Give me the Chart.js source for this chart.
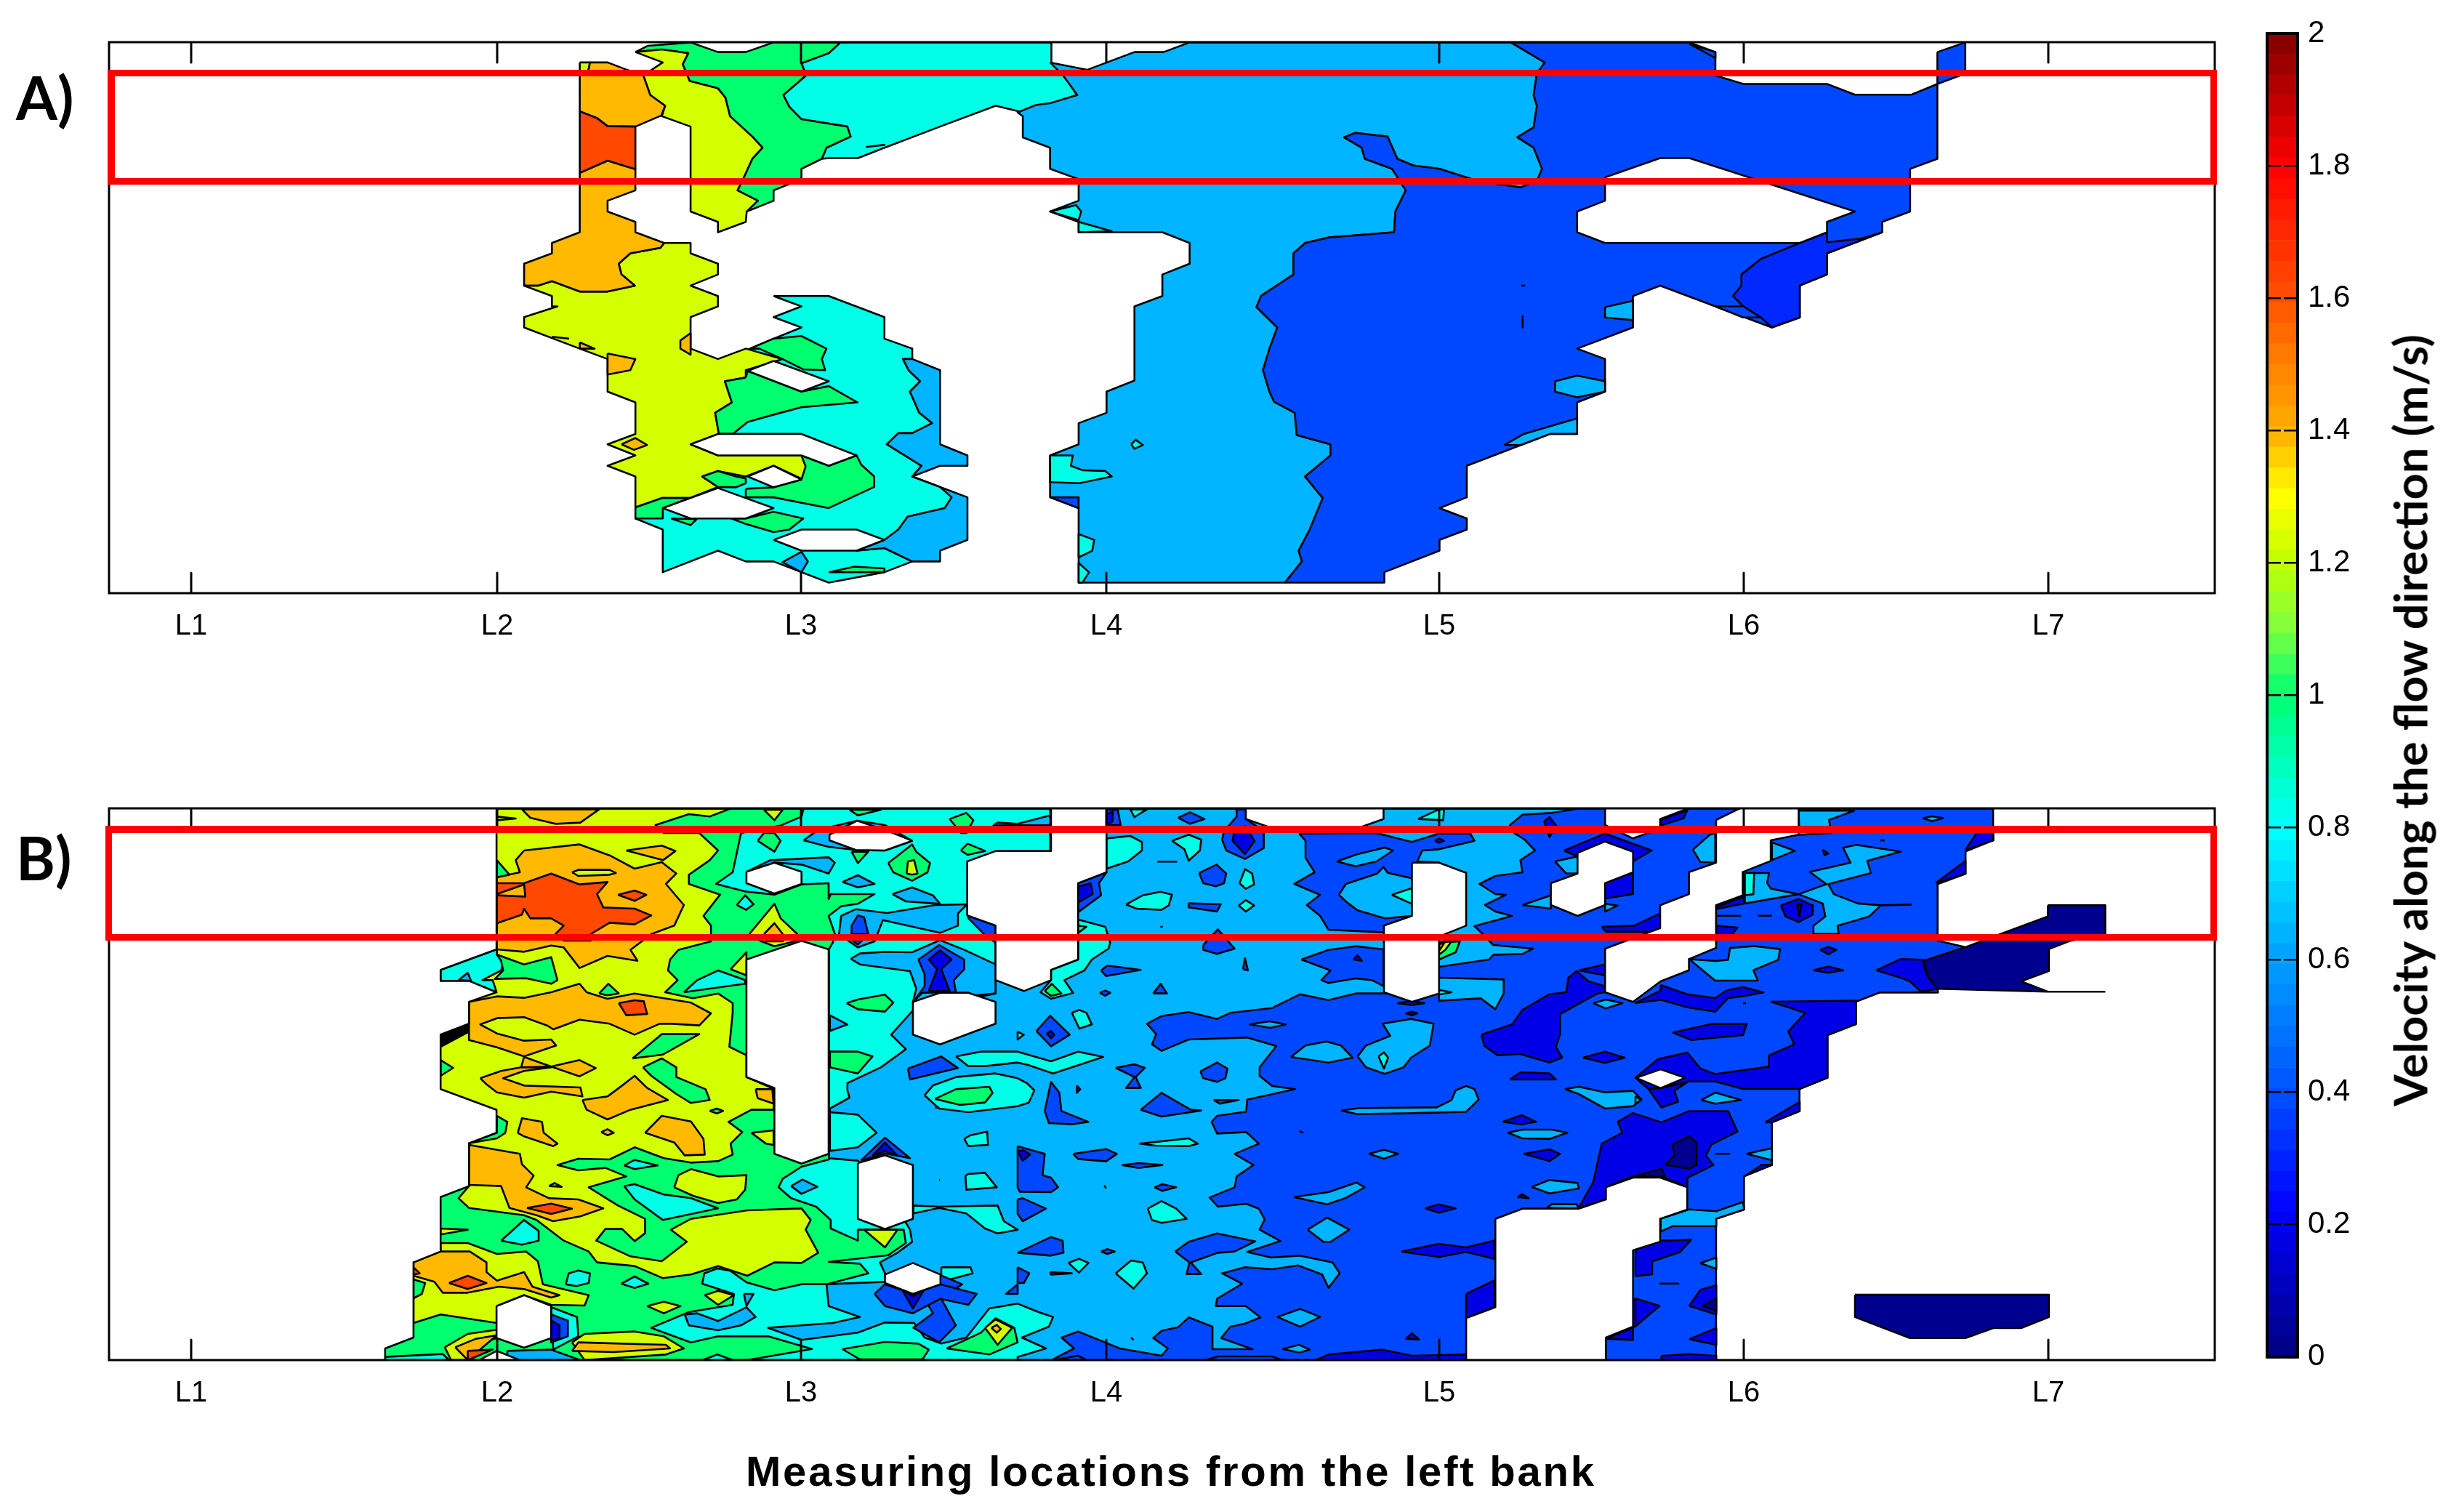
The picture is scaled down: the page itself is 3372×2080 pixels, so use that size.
<!DOCTYPE html>
<html>
<head>
<meta charset="utf-8">
<title>Velocity along the flow direction</title>
<script src="https://cdn.jsdelivr.net/npm/chart.js@4/dist/chart.umd.js"></script>
<style>
  body { margin: 0; background: #fff; width: 3372px; height: 2080px; overflow: hidden; position: relative; }
  canvas { position: absolute; }
  .box { position: absolute; border-style: solid; border-color: #f00; box-sizing: border-box; }
  .txt { position: absolute; color: #000; white-space: nowrap; font-weight: bold; }
</style>
</head>
<body>
<canvas id="chartA" width="2997" height="888" style="left:100px;top:8px"></canvas>
<canvas id="chartB" width="2997" height="889" style="left:100px;top:1062px"></canvas>
<canvas id="chartBar" width="190" height="1900" style="left:3099px;top:6px"></canvas>
<div class="box" style="left:148px;top:96px;width:2902px;height:158px;border-width:9px 9px 9px 10px"></div>
<div class="box" style="left:145px;top:1136px;width:2905px;height:158px;border-width:10px 9px 9px 9px"></div>
<div class="txt" style="left:22px;top:84px;font:bold 82px Lato">A)</div>
<div class="txt" style="left:22px;top:1130px;font:bold 82px Lato">B)</div>
<div class="txt" style="left:1026px;top:1990px;font:bold 58px 'Liberation Sans';letter-spacing:2.8px">Measuring locations from the left bank</div>
<div class="txt" id="barTitle" style="left:3315px;top:991px;font:bold 63px Lato;transform:translate(-50%,-50%) rotate(-90deg)">Velocity along the flow direction (m/s)</div>

<script>
// axis: section position of each measuring location
const xTickPos = [113, 534, 952, 1372, 1830, 2249, 2668];
const xTickLabels = ['L1', 'L2', 'L3', 'L4', 'L5', 'L6', 'L7'];
const xMax = 2897;
const yMaxA = 758;
const yMaxB = 759;

// colorbar
const barTicks = [0, 0.2, 0.4, 0.6, 0.8, 1, 1.2, 1.4, 1.6, 1.8, 2];
const barStopValues = [0, 0.22, 0.4, 0.6, 0.8, 1, 1.1, 1.2, 1.3, 1.4, 1.6, 1.8, 2];
const barStopColors = ['#000080', '#0000ff', '#0050ff', '#00a0ff', '#00ffff', '#00ff70', '#80ff40', '#c0ff00', '#ffff00', '#ffb000', '#ff5000', '#ff0000', '#800000'];
const barCells = 64;

// one colour per velocity band
const bandColors = {
  navy: '#00008f', deep: '#0000e6', royal: '#0028ff', blue: '#0048ff', light: '#00b4ff',
  cyan: '#00ffe6', green: '#00ff6e', lime: '#d4ff00', orange: '#ffb900', red: '#ff4800',
  white: '#ffffff', black: '#000000'
};

// contours were digitised off crops of the figure, each crop has its own calibration
// [x0, y0, sx, sy]: position = x0 + sx * read, depth = y0 + sy * read
const calA1 = [550, -18, 0.638, 0.51];
const calA2 = [1250, -18, 0.893, 0.51];
const calB3 = [350, -12, 0.574, 1 / 3];
const calB4 = [350, 368, 0.574, 1 / 3];
const calB5 = [1250, -12, 0.574, 1 / 3];
const calB6 = [1250, 368, 0.574, 1 / 3];
const calB7 = [2100, -12, 0.5102, 0.5102];

// ---- panel A ----
const aCyan = [
  [690,65, 715,36, 1170,36, 1170,90, 1190,110, 1225,178, 1170,200, 1140,205, 1110,225, 1050,207, 930,263, 810,320, 753,348, 690,348, 675,350, 685,320, 737,290, 730,263, 631,243, 605,210, 592,178, 641,125, 631,92],
  [571,720, 690,720, 810,777, 810,835, 870,862, 870,890, 850,890, 862,920, 887,950, 865,978, 885,1035, 913,1063, 870,1090, 840,1090, 815,1120, 890,1178, 870,1207, 930,1235, 955,1263, 940,1292, 860,1315, 840,1350, 810,1378, 750,1407, 810,1400, 870,1436, 810,1465, 690,1493, 631,1465, 571,1436, 511,1436, 451,1407, 332,1465, 332,1350, 273,1320, 450,1092, 520,862, 571,835, 631,805, 571,777, 631,748]
];
const aLightLeft = [
  [870,890, 930,920, 930,1120, 989,1150, 989,1178, 930,1178, 870,1207, 890,1178, 815,1120, 840,1090, 870,1090, 913,1063, 885,1035, 865,978, 887,950, 862,920, 850,890],
  [870,1207, 930,1235, 955,1263, 940,1292, 860,1315, 840,1350, 810,1378, 750,1407, 810,1400, 870,1436, 930,1436, 930,1407, 989,1378, 989,1263],
  [631,1410, 645,1436, 631,1465, 590,1438]
];
const aLightMain = [
  [50,90, 107,110, 180,62, 225,62, 265,36, 760,36, 812,90, 800,120, 795,178, 800,207, 795,265, 770,292, 795,320, 808,377, 800,410, 775,427, 738,418, 700,405, 650,377, 610,368, 585,350, 570,290, 520,280, 503,292, 530,320, 535,350, 577,377, 598,435, 582,492, 580,548, 480,562, 443,577, 425,605, 425,662, 375,720, 368,750, 400,805, 388,862, 378,920, 388,978, 395,1005, 427,1035, 430,1095, 482,1120, 482,1150, 443,1207, 470,1265, 450,1350, 433,1407, 438,1436, 412,1493, 94,1493, 94,1292, 50,1263, 50,1150, 94,1120, 94,1063, 137,1035, 137,978, 180,948, 180,748, 223,720, 223,662, 265,633, 265,577, 223,548, 94,548, 94,520, 50,492, 94,463, 94,405, 50,377, 50,320, 8,292, 8,235, 0,225, 28,205, 50,200, 92,178, 70,125]
];
const aBlueMain = [
  [760,36, 1035,36, 1075,62, 1075,125, 1118,148, 1247,148, 1290,177, 1377,177, 1417,148, 1417,350, 1375,377, 1375,492, 1332,520, 1332,548, 1247,605, 1247,662, 1205,692, 1205,778, 1162,805, 1075,748, 990,692, 948,720, 948,805, 862,862, 905,890, 905,978, 862,1007, 862,1092, 820,1092, 692,1178, 692,1263, 650,1292, 692,1320, 692,1350, 650,1378, 650,1407, 565,1465, 565,1493, 412,1493, 438,1436, 433,1407, 450,1350, 470,1265, 443,1207, 482,1150, 482,1120, 430,1095, 427,1035, 395,1005, 388,978, 378,920, 388,862, 400,805, 368,750, 375,720, 425,662, 425,605, 443,577, 480,562, 580,548, 582,492, 598,435, 577,377, 535,350, 530,320, 503,292, 520,280, 570,290, 585,350, 610,368, 650,377, 700,405, 738,418, 775,427, 800,410, 808,377, 795,320, 770,292, 795,265, 800,207, 795,178, 800,120, 812,90],
  [1417,62, 1460,36, 1460,120, 1417,148]
];
const aRoyal = [
  [1205,577, 1247,548, 1247,575, 1300,565, 1332,548, 1247,605, 1247,662, 1205,692, 1205,778, 1162,805, 1145,778, 1118,748, 1102,720, 1115,692, 1115,662, 1145,620]
];
const aLightIslands = [
  [905,750, 948,733, 948,785, 905,778],
  [828,950, 862,935, 905,950, 905,978, 862,993, 828,978],
  [750,1122, 780,1092, 862,1050, 862,1092, 820,1092, 775,1122]
];
const aCyanIslands = [
  [50,492, 90,475, 98,492, 94,515],
  [94,520, 145,545, 94,548],
  [50,1150, 85,1150, 82,1178, 100,1190, 135,1192, 145,1207, 95,1225, 50,1222],
  [94,1362, 118,1378, 115,1407, 94,1425],
  [94,1440, 110,1465, 100,1493, 94,1493],
  [175,1120, 182,1108, 193,1122, 180,1132]
];
const aBlueSmall = [
  [50,1263, 94,1263, 94,1292],
  [1075,748, 1118,748, 1145,778, 1118,778],
  [1035,40, 1075,62, 1075,78],
  [778,775, 778,805],
  [776,692, 782,692]
];
const aGreen = [
  [273,62, 300,45, 392,36, 451,62, 511,62, 571,36, 715,36, 690,65, 631,92, 641,125, 592,178, 605,210, 631,243, 730,263, 737,290, 685,320, 675,350, 631,377, 631,405, 571,435, 571,463, 513,492, 537,463, 493,435, 505,405, 525,350, 547,320, 525,290, 477,235, 467,185, 451,160, 390,140, 375,95, 387,65, 330,55],
  [770,318, 812,312]
];
const aLime = [
  [273,62, 330,55, 387,65, 375,95, 390,140, 451,160, 467,185, 477,235, 525,290, 547,320, 525,350, 505,405, 493,435, 537,463, 513,492, 511,520, 451,548, 451,520, 392,492, 392,263, 330,235, 337,207, 305,178, 290,125, 332,90],
  [153,90, 175,90, 172,110, 153,125],
  [335,577, 392,577, 392,605, 451,633, 451,662, 392,692, 451,720, 451,748, 392,777, 392,862, 451,890, 511,862, 590,890, 511,920, 511,940, 466,950, 481,1007, 445,1035, 453,1092, 392,1120, 451,1150, 631,1150, 645,1180, 635,1215, 571,1178, 511,1207, 451,1192, 417,1207, 451,1235, 390,1265, 330,1265, 273,1290, 273,1207, 213,1178, 273,1150, 213,1120, 273,1092, 273,1007, 213,978, 213,890, 153,862, 33,805, 33,777, 105,748, 93,748, 93,720, 33,692, 63,692, 93,680, 153,708, 213,708, 272,692, 243,662, 237,633, 262,605, 327,590]
];
const aOrange = [
  [175,90, 213,90, 255,110, 290,125, 305,178, 337,207, 329,233, 273,263, 213,262, 190,240, 153,222, 153,125, 172,110],
  [153,388, 213,355, 273,378, 273,435, 213,463, 213,492, 273,520, 273,548, 335,577, 327,590, 262,605, 237,633, 243,662, 272,692, 213,708, 153,708, 93,680, 63,692, 33,692, 33,633, 93,605, 93,577, 153,548],
  [213,875, 273,890, 262,920, 213,932],
  [392,820, 370,840, 370,862, 392,878],
  [243,1120, 273,1103, 298,1122, 270,1135],
  [153,845, 185,862, 153,862],
  [93,830, 130,835]
];
const aRed = [
  [153,222, 190,240, 213,262, 273,263, 273,378, 213,355, 153,388]
];
const aGreenLower = [
  [520,862, 571,835, 631,828, 685,862, 675,890, 682,920, 635,918, 590,890, 540,862],
  [511,940, 515,922, 631,978, 690,963, 752,1007, 631,1020, 580,1037, 515,1060, 483,1092, 453,1092, 445,1035, 481,1007, 466,950],
  [511,1240, 572,1236, 631,1215, 640,1180, 631,1150, 690,1178, 750,1150, 760,1175, 788,1207, 788,1235, 690,1292, 571,1263, 511,1263],
  [417,1207, 451,1192, 490,1207, 511,1212, 511,1225, 490,1236, 451,1235],
  [273,1290, 330,1265, 390,1265, 332,1292, 332,1320, 273,1320],
  [480,1320, 511,1320, 571,1302, 635,1320, 605,1350, 571,1357, 511,1335],
  [350,1320, 405,1322, 392,1338],
  [690,1465, 745,1450, 810,1455, 810,1465]
];
const aHolesLeft = [
  [571,895, 690,950, 631,978, 515,922],
  [392,1120, 451,1092, 631,1092, 750,1150, 690,1178, 631,1150, 451,1150],
  [515,1207, 571,1178, 631,1215, 571,1236],
  [332,1292, 451,1238, 571,1292, 511,1320, 392,1320],
  [571,1378, 631,1350, 750,1350, 810,1378, 750,1407, 631,1407]
];
const aHolesRight = [
  [905,400, 990,348, 1035,348, 1290,492, 1247,520, 1247,548, 1205,577, 905,577, 862,548, 862,492, 905,463]
];
const layersA = [
  ['cyan', calA1, aCyan], ['light', calA2, aLightMain], ['light', calA1, aLightLeft],
  ['blue', calA2, aBlueMain], ['royal', calA2, aRoyal], ['light', calA2, aLightIslands],
  ['cyan', calA2, aCyanIslands], ['blue', calA2, aBlueSmall],
  ['green', calA1, aGreen], ['lime', calA1, aLime], ['orange', calA1, aOrange], ['red', calA1, aRed],
  ['green', calA1, aGreenLower], ['white', calA1, aHolesLeft], ['white', calA2, aHolesRight]
];

// ---- panel B ----
const bBlueBase = [
  [-610,37, 3906,37, 3906,168, 3840,214, 3840,306, 3773,349, 3773,582, 3840,609, 3739,666, 3751,735, 3773,781, 3774,796, 3635,796, 3577,834, 3577,926, 3509,972, 3509,1148, 3442,1194, 3442,1286, 3376,1332, 3376,1508, 3309,1554, 3309,1692, 3242,1730, 3242,2313, -610,2313]
];
const bLightBase = [
  [-610,37, 2913,37, 2848,55, 2778,62, 2748,105, 2758,138, 2783,165, 2808,210, 2773,250, 2778,300, 2713,315, 2675,348, 2713,390, 2738,393, 2688,435, 2713,462, 2753,480, 2663,522, 2683,555, 2708,600, 2803,615, 2778,637, 2708,640, 2698,660, 2578,690, 2513,800, 2378,800, 2313,827, 2245,803, 2178,860, 2078,880, 2046,905, 1978,877, 1913,893, 1878,925, 1900,968, 1890,1010, 1913,1037, 1978,990, 2118,982, 2188,1017, 2148,1105, 2148,1140, 2178,1182, 2233,1195, 2118,1238, 2116,1288, 2046,1305, 2033,1330, 2046,1378, 2116,1372, 2146,1420, 2088,1462, 2133,1508, 2093,1555, 2088,1600, 2028,1642, 2048,1680, 2116,1668, 2146,1688, 2160,1732, 2148,1775, 2198,1822, 2118,1867, 2176,1890, 2243,1882, 2323,1910, 2340,1955, 2313,2015, 2298,1960, 2240,1922, 2178,1938, 2113,1930, 2058,1955, 2106,1998, 2046,2060, 2043,2090, 2115,2090, 2150,2137, 2113,2162, 2078,2175, 2056,2222, 2131,2268, 2035,2268, 2035,2175, 1978,2137, 1953,2177, 1913,2192, 1893,2222, 1928,2265, 1913,2295, 1813,2265, 1713,2195, 1673,2220, 1703,2265, 1653,2310, 1653,2313, -610,2313]
];
// blue pocket left of the tall white column, sits on the light band
const bPocket5 = [
  [675,140, 860,138, 945,175, 1010,140, 1085,140, 1095,170, 1010,205, 970,210, 958,255, 1010,258, 1010,400, 877,548, 745,537, 725,480, 693,435, 725,393, 663,348, 712,300, 690,240, 690,170]
];
const bBlueOnLight5 = [
  [213,42, 240,42, 247,105, 213,105], [385,75, 413,52, 448,80, 413,100],
  [435,303, 477,268, 500,305, 495,345, 475,358, 445,345], [410,428, 487,432, 478,462, 410,445],
  [490,165, 495,130, 525,70, 525,40, 547,40, 547,80, 590,130, 590,200, 545,245, 500,210],
  [445,600, 480,535, 520,615, 478,637, 445,620], [540,700, 545,655, 552,705],
  [200,705, 215,685, 295,703, 212,728], [197,797, 210,788, 222,797, 210,810], [325,800, 343,760, 358,800],
  [45,955, 78,892, 125,970, 80,1018],
  [235,1107, 280,1092, 305,1107, 283,1145, 295,1190, 260,1190, 280,1145], [438,1122, 478,1085, 503,1110, 498,1150, 478,1165, 445,1150],
  [680,660, 745,620, 810,605, 877,618, 877,770, 850,745, 810,738, 745,757, 728,745, 750,705],
  [145,345, 213,300, 195,345, 200,395, 145,465],
  [335,256, 382,256], [342,525, 348,525]
];
const bDeepOnBlue5 = [
  [213,60, 228,50, 228,90, 213,105], [515,170, 520,125, 545,110, 568,170, 545,225],
  [145,360, 175,345, 180,390, 145,425], [70,965, 80,955, 88,970, 80,985],
  [1262,90, 1275,72, 1290,105, 1275,155],
  [1112,970, 1185,928, 1210,868, 1275,803, 1315,795, 1320,735, 1340,707, 1368,750, 1408,770, 1408,795, 1390,800, 1300,885, 1300,970, 1290,1020, 1305,1065, 1275,1085, 1205,1050, 1150,1055, 1118,1015],
  [1355,1065, 1408,1040, 1455,1065, 1408,1087], [1180,1155, 1205,1125, 1275,1130, 1290,1155],
  [1310,210, 1408,140, 1520,210, 1475,255, 1475,215, 1408,173, 1342,220, 1342,235],
  [1408,345, 1475,300, 1475,390, 1408,408], [1400,525, 1478,520, 1540,470, 1540,545, 1410,545],
  [1345,705, 1408,680, 1408,725], [910,840, 945,830, 975,840, 945,848], [930,882, 945,875, 958,882, 945,890],
  [1000,170, 1010,160, 1022,170, 1010,178], [805,660, 815,642, 825,665]
];
const bLightOnBlue5 = [
  [770,393, 787,348, 862,305, 877,278, 887,302, 945,325, 945,480, 880,490, 815,457, 790,425],
  [765,255, 815,225, 880,198, 900,210, 860,255, 810,275],
  [655,1062, 690,1015, 740,998, 775,1015, 803,1065, 745,1085],
  [815,1060, 835,1015, 893,975, 875,925, 943,905, 997,925, 988,1015, 943,1065, 925,1105, 880,1132, 835,1105],
  [555,927, 605,915, 643,928, 605,942],
  [1010,735, 1165,742, 1165,800, 1145,865, 1110,820, 1010,830],
  [1210,435, 1278,395, 1278,450], [1408,430, 1438,437, 1408,462], [1288,255, 1342,235, 1342,305, 1315,305],
  [1380,840, 1410,825, 1450,840, 1410,862]
];
const bCyan5 = [
  [865,1060, 878,1043, 888,1065, 878,1110], [897,393, 945,365, 945,430], [1010,785, 1040,795, 1010,805],
  [960,80, 1010,40, 1022,40, 1020,85],
  [270,40, 310,40, 280,72],
  [370,170, 410,145, 440,165, 437,210, 410,252, 400,205], [532,345, 545,287, 562,305, 567,350, 547,368],
  [530,437, 547,415, 567,437, 547,462], [260,433, 300,395, 342,380, 370,392, 362,437, 345,455, 285,450],
  [213,160, 270,150, 298,175, 298,210, 265,255, 213,285],
  [145,495, 210,525, 222,590, 218,615, 178,660, 160,705, 112,745, 133,798, 80,822, 55,795, 80,745, 80,703, 145,660],
  [130,880, 148,868, 165,880, 178,928, 148,945], [0,958, 15,970, 0,990]
];
const bGreen5 = [[65,790, 82,760, 105,800, 80,810], [145,520, 165,525, 145,550], [1010,590, 1060,585, 1050,630, 1010,660]];
const bLime5 = [[1010,590, 1040,585, 1025,620, 1010,640]];
const bOrange5 = [[1010,600, 1025,585, 1012,620]];
// same kind of islands, lower crop
const bBlueOnLight6 = [
  [295,140, 345,70, 415,140, 440,143, 345,168], [65,145, 80,25, 100,70, 105,145, 170,190, 130,200, 75,195], [470,100, 530,100, 485,115],
  [0,290, 65,322, 60,410, 80,420, 97,460, 80,480, 5,478, 0,460],
  [133,322, 212,302, 238,322, 212,353, 145,343], [250,368, 290,360, 347,368, 290,380], [328,460, 347,447, 380,460, 347,475],
  [0,510, 12,505, 68,548, 12,600, 0,570], [0,730, 80,665, 108,680, 110,730, 80,742], [0,790, 28,815, 15,855, 0,855],
  [378,725, 410,685, 478,650, 570,683, 520,725, 480,730, 415,770, 440,818, 405,818, 412,770],
  [200,725, 215,715, 233,725, 215,735], [450,1173, 480,1158, 610,1158, 635,1173], [85,1173, 145,1155, 165,1173],
  [675,228, 685,235], [142,40, 150,55, 142,70], [208,452, 212,465], [272,1080, 278,1090]
];
const bDeep6 = [
  [1163,190, 1208,162, 1243,190, 1208,200], [1213,322, 1275,303, 1300,322, 1275,352], [977,547, 1010,530, 1050,547, 1010,565],
  [920,725, 1010,693, 1075,708, 1142,680, 1142,755, 1075,727, 1010,748],
  [1075,900, 1142,845, 1142,955, 1075,1000], [715,1173, 745,1150, 875,1130, 945,1155, 1075,1150, 1075,1173],
  [0,310, 15,308, 30,325, 12,350], [1198,500, 1210,488, 1225,505], [930,1085, 945,1062, 962,1088], [1475,920, 1535,950, 1475,1040],
  [1410,1085, 1475,1040, 1475,1090]
];
const bLightOnBlue6 = [
  [775,143, 820,133, 1005,130, 1040,100, 1050,60, 1075,42, 1095,55, 1105,98, 1075,148, 930,155, 815,158],
  [1312,55, 1345,45, 1408,68, 1475,62, 1495,98, 1475,125, 1408,135, 1345,75],
  [1175,235, 1210,222, 1280,222, 1318,235, 1275,260, 1210,258], [842,322, 878,305, 912,322, 878,342],
  [662,500, 745,480, 812,440, 832,460, 785,505, 742,530], [1232,458, 1275,430, 1342,442, 1345,465, 1275,485],
  [695,635, 742,585, 795,635, 750,685, 733,685], [622,995, 677,962, 725,995, 677,1035], [635,1127, 675,1110, 700,1130, 675,1142],
  [1268,545, 1280,530, 1340,530, 1345,548]
];
const bCyan6 = [
  [292,280, 410,258, 432,280, 410,290, 330,288], [312,548, 345,517, 380,548, 405,590, 345,607, 322,595],
  [235,815, 272,762, 300,770, 310,815, 278,878], [122,772, 147,755, 170,772, 147,812], [78,810, 130,815, 80,820]
];
// right end of the panel
const bLight7 = [
  [155,135, 200,95, 215,90, 215,170, 175,168], [368,115, 430,138, 368,163],
  [295,198, 360,198, 355,225, 365,240, 440,255, 515,228, 470,195, 580,170, 560,130, 595,122, 715,140, 625,165, 635,198, 520,228, 535,255, 600,280, 662,285, 630,315, 545,340, 548,362, 480,362, 480,340, 512,315, 505,280, 440,255, 295,280],
  [440,30, 590,30, 522,55, 528,90, 442,95], [775,50, 800,45, 830,50, 800,58],
  [145,430, 215,435, 250,432, 255,400, 320,395, 390,403, 385,432, 318,460, 330,488, 215,488],
  [178,810, 215,790, 285,810, 215,820], [0,800, 15,810, 0,820],
  [300,955, 368,940, 368,972], [175,1250, 218,1235, 218,1265],
  [68,1130, 145,1105, 218,1110, 290,1085, 293,1105, 218,1130, 218,1150, 100,1150, 68,1165]
];
const bDeep7 = [
  [392,285, 440,268, 478,285, 478,310, 440,330, 405,315], [810,225, 890,165, 890,200], [890,135, 920,90, 965,90, 965,110],
  [68,55, 140,28, 130,50, 68,70], [218,290, 290,262, 293,280, 218,295], [218,340, 275,345, 262,362, 218,362],
  [498,405, 520,397, 542,405, 520,417], [480,460, 520,450, 560,460, 520,467],
  [650,460, 715,430, 777,432, 777,450, 790,480, 815,510, 770,518, 740,490, 715,480],
  [68,500, 140,525, 215,535, 245,515, 290,505, 345,520, 290,530, 250,535, 215,572, 140,560, 70,540, 0,548, 68,515],
  [365,545, 595,542, 595,605, 518,635, 518,750, 443,780, 290,780, 215,760, 140,760, 68,778, 35,780, 0,750, 60,700, 140,682, 175,725, 215,740, 360,720, 360,690, 428,660, 412,625, 458,575],
  [100,628, 205,605, 300,605, 290,635, 150,648],
  [35,780, 70,830, 115,815, 105,785, 140,762, 68,778],
  [-153,1101, -114,1032, -91,928, -35,898, -48,869, -7,845, 70,870, 145,840, 250,840, 275,895, 205,930, 190,960, 210,985, 140,1020, 140,1045, 70,1015, -7,1015, -80,1045, -80,1078],
  [350,870, 443,815, 443,840, 368,870], [295,1015, 368,985, 340,985],
  [0,1215, 45,1190, 150,1187, 120,1220, 45,1245, 45,1280, 0,1285],
  [145,1365, 175,1322, 218,1310, 218,1388], [145,1455, 218,1425, 218,1470], [0,1345, 65,1365, 0,1420],
  [70,1500, 145,1495, 218,1500, 218,1511, 70,1511]
];
const bNavy7 = [
  [80,985, 105,960, 100,930, 145,908, 165,925, 165,985, 145,995], [0,1015, 70,995, 80,1015],
  [180,1365, 218,1345, 218,1378], [592,1335, 1115,1335, 1115,1395, 1040,1425, 965,1425, 890,1452, 740,1452, 592,1395],
  [435,282, 448,282, 442,315],
  [1112,285, 1267,285, 1267,362, 1175,380, 1115,403, 1115,462, 1040,490, 1112,518, 815,510, 790,480, 777,435, 890,398, 985,362, 1112,315]
];
const bMarks7 = [[1112,518, 1267,518], [662,285, 745,283], [220,313, 285,313], [330,313, 368,313], [215,955, 255,955], [65,1305, 118,1305], [290,549, 298,549], [660,110, 672,110], [505,135, 520,145, 510,150]];
const bCyanSmall7 = [[295,198, 320,198, 318,255, 295,258]];
// cyan band and everything nested on top of it
const bCyanBase = [
  [-610,37, 1646,37, 1646,300, 1515,520, 1515,800, 1317,870, 1265,970, 1300,1030, 1240,1105, 1160,1170, 1160,1200, 1165,1230, 1118,1275, 1116,1480, 1185,1490, 1250,1600, 1310,1775, 1315,1825, 1280,1870, 1238,1910, 1250,1955, 1250,1990, 1110,2000, 1115,2090, 1190,2135, 1125,2160, 970,2180, 1050,2230, 1185,2200, 1250,2158, 1320,2160, 1345,2220, 1385,2245, 1445,2220, 1500,2100, 1568,2080, 1618,2115, 1653,2135, 1643,2175, 1578,2220, 1636,2265, 1568,2300, 1568,2313, -610,2313],
  [1318,1675, 1380,1680, 1520,1675, 1535,1740, 1568,1775, 1520,1790, 1490,1770, 1445,1708, 1380,1685, 1318,1708],
  [1420,1060, 1480,1040, 1568,1040, 1648,1080, 1713,1040, 1773,1062, 1653,1130, 1593,1095, 1568,1085, 1490,1100, 1450,1100],
  [1345,1220, 1365,1180, 1420,1145, 1515,1130, 1568,1150, 1590,1170, 1608,1200, 1595,1250, 1568,1265, 1450,1290, 1380,1275],
  [1118,1290, 1185,1300, 1230,1375, 1185,1435, 1118,1450],
  [1440,1400, 1455,1385, 1495,1370, 1497,1425, 1450,1430], [1443,1552, 1450,1545, 1490,1540, 1518,1600, 1445,1610],
  [1385,1930, 1455,1930, 1460,1955, 1385,1990], [1370,1270, 1380,1272]
];
const bLightOnCyan = [
  [1180,452, 1255,468, 1370,435, 1447,432, 1425,470, 1425,520, 1382,550, 1245,497, 1225,585, 1185,610, 1140,555, 1145,480],
  [1168,657, 1190,635, 1250,628, 1315,630, 1382,580, 1440,620, 1515,680, 1515,800, 1317,835, 1325,780, 1310,708, 1190,680],
  [1055,168, 1090,125, 1183,87, 1250,105, 1315,170, 1250,210, 1180,208, 1115,195],
  [918,298, 975,250, 1115,238, 1130,260, 1115,305, 1050,268, 985,260],
  [1148,340, 1185,312, 1225,348, 1185,362], [1268,390, 1315,362, 1365,395, 1382,430, 1300,420],
  [1510,105, 1520,95, 1568,100, 1646,65, 1646,105, 1510,107],
  [1118,890, 1160,928, 1118,955],
  [1025,1595, 1052,1568, 1088,1598, 1050,1627],
  [770,2125, 800,2120, 850,2152, 918,2095, 940,2135, 905,2170, 850,2190, 780,2170],
  [912,2040, 935,2040, 918,2090]
];
const bBlueLobes = [
  [1330,660, 1380,600, 1440,660, 1440,700, 1415,745, 1420,795, 1340,797, 1320,830, 1345,770, 1345,720],
  [1170,520, 1185,478, 1200,485, 1210,555, 1170,555], [1172,582, 1185,598, 1195,582],
  [1305,1110, 1385,1060, 1425,1108, 1310,1155],
  [1450,480, 1515,520, 1515,590, 1490,560, 1450,490],
  [1325,2000, 1380,1960, 1435,2000, 1385,2060, 1420,2170, 1380,2240, 1318,2180, 1365,2120],
  [1225,2040, 1250,2000, 1317,2040, 1383,2000, 1470,2040, 1450,2085, 1383,2060, 1317,2120, 1250,2090],
  [1192,1490, 1250,1395, 1310,1480, 1250,1460], [1568,2040, 1540,2040, 1568,2000],
  [1380,1570, 1382,1570]
];
const bDeepLobes = [
  [1355,790, 1375,700, 1355,660, 1382,622, 1410,660, 1385,700, 1405,790], [1290,2020, 1317,2050, 1345,2020, 1317,2100],
  [1220,1470, 1250,1415, 1280,1470, 1250,1450], [1450,2250, 1455,2250]
];
const bGreenBase = [
  [-610,37, 1055,37, 1050,70, 1000,107, 905,138, 885,300, 845,348, 918,380, 985,392, 1050,350, 1115,345, 1115,410, 1120,390, 1225,390, 1185,430, 1145,440, 1115,480, 1130,555, 1125,590, 1115,620, 1116,1485, 1050,1515, 1005,1565, 995,1600, 1025,1645, 1085,1680, 1120,1735, 1120,1770, 1185,1820, 1185,1775, 1295,1775, 1300,1830, 1258,1880, 1115,1908, 1190,1915, 1210,1955, 1110,2000, 1050,2000, 985,2025, 918,1992, 880,1945, 848,1935, 817,1955, 812,1998, 888,2040, 885,2085, 780,2115, 690,2180, 785,2240, 850,2215, 970,2215, 1075,2267, 920,2313, -610,2313]
];
const bCyanOnGreen = [
  [895,435, 915,395, 935,432, 917,455], [768,795, 800,745, 850,705, 915,745, 915,760],
  [625,1595, 650,1587, 720,1630, 785,1645, 850,1687, 718,1735, 650,1650], [625,1510, 650,1487, 705,1510, 650,1525],
  [330,1820, 385,1735, 420,1780, 420,1820, 380,1837], [485,2000, 492,1955, 515,1943, 543,1955, 540,1995, 510,2008],
  [618,1998, 650,1968, 683,1998, 650,2015], [52,2300, 190,2288, 205,2313, 52,2313],
  [810,2315, 848,2290, 885,2313]
];
const bGreenOnCyan = [
  [945,170, 960,138, 985,138, 1000,170, 985,215], [1170,215, 1210,215, 1185,262],
  [1258,262, 1315,185, 1325,215, 1358,262, 1352,300, 1315,335, 1270,300],
  [1405,80, 1445,55, 1462,85, 1445,138, 1432,138], [1432,210, 1448,182, 1490,212, 1448,228],
  [1165,42, 1240,42, 1185,65], [1158,840, 1185,825, 1250,805, 1270,838, 1250,875, 1185,865],
  [1118,1040, 1185,1040, 1220,1060, 1185,1130, 1118,1105], [1370,1235, 1420,1195, 1500,1185, 1508,1210, 1490,1250, 1430,1260],
  [1148,2268, 1250,2238, 1330,2245, 1355,2270, 1340,2310, 1190,2310],
  [1398,2265, 1480,2200, 1515,2140, 1560,2180, 1568,2240, 1500,2290]
];
const bLimeBase = [
  [-610,37, 880,37, 830,70, 780,60, 700,105, 720,138, 805,138, 850,210, 830,250, 780,310, 780,348, 855,392, 815,480, 833,520, 833,585, 755,620, 735,660, 730,705, 753,745, 723,795, 790,820, 850,800, 885,840, 885,880, 877,1020, 918,1055, 918,1145, 985,1195, 983,1280, 930,1280, 875,1330, 908,1372, 880,1420, 885,1465, 850,1492, 785,1498, 720,1480, 650,1435, 590,1485, 515,1482, 465,1508, 515,1530, 580,1520, 630,1555, 540,1600, 610,1675, 675,1730, 675,1790, 650,1822, 620,1772, 580,1772, 558,1820, 640,1885, 715,1905, 775,1825, 737,1775, 785,1730, 920,1695, 1050,1687, 1072,1735, 1060,1775, 1090,1870, 1050,1912, 985,1910, 920,1965, 850,1925, 785,1960, 718,1975, 650,1925, 560,1910, 540,1865, 480,1820, 415,1735, 385,1715, 253,1685, 228,1645, 253,1595, -610,1595]
];
const bLimeIslands = [
  [185,690, 250,690, 320,735, 390,725, 418,765, 430,860, 540,905, 530,948, 450,945, 385,905, 320,950, 320,1020, 185,985, 120,1020, 120,770, 185,725],
  [745,460, 755,410, 785,385, 850,415, 918,410, 915,470, 895,510, 850,525, 790,495],
  [680,950, 720,932, 760,950, 720,980], [818,905, 850,887, 888,905, 850,945], [185,630, 250,635, 185,655],
  [195,1120, 250,1065, 320,1048, 320,1082, 295,1095, 245,1173, 210,1173], [500,1100, 530,1065, 650,1055, 720,1075, 768,1125, 725,1150, 530,1173],
  [1200,635, 1280,635, 1250,708], [1490,1040, 1515,1005, 1555,1040, 1520,1110],
  [930,235, 983,225, 983,285, 965,280]
];
// lime pockets inside the green and cyan bands, upper crop
const bLimeInGreen = [
  [925,555, 985,430, 1000,490, 1040,555, 1040,582, 985,605, 950,582], [1302,305, 1305,255, 1320,250, 1328,305, 1315,310],
  [880,700, 918,630, 918,725], [960,42, 1005,42, 985,85]
];
const bOrangeIslands = [
  [380,40, 400,75, 460,100, 520,95, 565,40],
  [385,210, 365,250, 375,300, 320,320, 320,618, 385,628, 450,602, 480,610, 518,695, 585,645, 657,665, 640,620, 690,555, 745,520, 768,435, 725,348, 750,305, 715,258, 650,285, 590,230, 518,185],
  [630,210, 715,190, 748,212, 718,250],
  [253,835, 320,812, 385,818, 450,795, 518,760, 535,795, 585,822, 650,800, 785,838, 833,882, 805,932, 740,925, 710,925, 650,970, 590,925, 518,908, 455,948, 440,932, 385,898, 320,902, 280,928, 320,965, 385,995, 450,990, 462,1015, 385,1060, 320,1022, 253,992],
  [385,1062, 450,1102, 518,1075, 557,1108, 518,1142, 450,1102, 378,1105],
  [280,1150, 330,1120, 378,1105, 450,1105, 385,1120, 335,1150, 385,1180, 520,1188, 525,1225, 450,1205, 385,1230, 320,1208, 295,1175],
  [525,1240, 585,1225, 620,1180, 650,1140, 680,1190, 730,1240, 640,1280, 585,1320, 535,1280],
  [940,1195, 980,1195, 983,1255, 945,1232], [370,1375, 380,1315, 428,1330, 432,1375, 465,1420, 455,1430, 385,1390],
  [675,1375, 715,1305, 785,1328, 815,1400, 818,1465, 770,1468, 745,1415],
  [253,1425, 375,1462, 380,1505, 408,1552, 390,1600, 445,1645, 515,1650, 575,1687, 520,1720, 455,1740, 415,1715, 350,1685, 330,1595, 253,1590],
  [570,1372, 585,1360, 600,1375, 585,1385],
  [120,1910, 185,1865, 255,1865, 295,1910, 295,1950, 320,1985, 385,1950, 405,2010, 470,2045, 450,2055, 385,2020, 325,2010, 250,2035, 190,2035, 170,1990, 120,1965],
  [960,555, 985,510, 1005,555, 1005,585, 965,585],
  [220,2260, 270,2225, 320,2210, 250,2313], [500,2275, 515,2240, 620,2245, 725,2250, 735,2265, 600,2280], [1505,2180, 1518,2168, 1528,2185, 1518,2200]
];
const bRedIslands = [
  [320,345, 385,345, 450,305, 518,350, 585,340, 560,390, 575,445, 650,450, 690,478, 650,515, 590,508, 545,555, 545,582, 480,582, 460,555, 480,520, 450,490, 400,490, 385,450, 380,475, 320,510],
  [610,393, 650,375, 678,393, 650,418], [612,840, 650,828, 672,832, 680,885, 630,890],
  [392,1685, 450,1667, 500,1688, 450,1710], [205,1995, 250,1965, 295,1995, 250,2020], [120,1930, 135,1955, 120,1960],
  [250,2275, 310,2270, 250,2313]
];
const bOrangeOnRed = [[320,390, 385,350, 388,400, 320,395]];
// tongue sticking out left of the main body
const bCyanOnLime = [[185,703, 319,618, 320,640, 335,665, 330,705, 285,745, 310,745, 319,795, 253,748, 185,748]];
const bLightOnLime = [[228,745, 250,715, 258,748]];
const bGreenOnLime = [
  [320,250, 350,310, 320,320], [565,800, 587,760, 612,800, 585,808], [645,1068, 715,968, 805,968, 718,1052],
  [185,1075, 215,1107, 185,1140], [670,1105, 715,1068, 750,1105, 750,1145, 820,1195, 830,1240, 785,1252, 750,1215, 690,1140],
  [320,1305, 345,1330, 340,1375, 320,1398, 253,1418, 320,1375], [445,1595, 458,1582, 475,1598], [830,1285, 847,1275, 862,1285, 847,1295],
  [120,1980, 148,1995, 140,2040, 120,2058], [320,640, 385,680, 450,650, 465,745, 450,760, 390,737, 315,740, 335,705, 330,665]
];
const bLimeSlit = [[500,300, 515,290, 590,290, 605,303, 590,310, 515,315], [320,70, 365,78, 320,85]];
const bRainbow4 = [[450,955, 512,995, 515,1075, 455,1130]];
const bRainbowBlue4 = [[450,985, 490,1010, 490,1075, 450,1100]];
const bRainbowDeep4 = [[450,1010, 470,1030, 470,1080, 450,1095]];
const bUnderHex4 = [[345,1135, 450,1130, 520,1173, 345,1173]];
const bDarkPatch = [[185,970, 250,925, 250,960, 185,1020]];
const bMasks = [
  [-612,30, 319,30, 319,618, 185,703, 185,748, 253,748, 319,795, 253,835, 253,925, 185,970, 185,1195, 319,1280, 319,1375, 253,1418, 253,1595, 185,1640, 185,1865, 120,1910, 120,2220, 52,2265, 52,2320, -612,2320],
  [1117,145, 1183,87, 1250,125, 1315,170, 1250,210, 1180,208, 1117,168],
  [918,298, 985,260, 1050,298, 1050,348, 985,388, 918,345],
  [918,660, 1050,583, 1115,618, 1115,1462, 1050,1502, 985,1462, 985,1190, 918,1145],
  [1317,835, 1382,797, 1450,797, 1515,835, 1515,925, 1382,1010, 1317,970],
  [1648,30, 1781,30, 1781,300, 1713,345, 1713,660, 1648,703, 1648,745, 1583,790, 1515,745, 1515,520, 1447,478, 1447,255, 1515,212, 1648,212],
  [2115,30, 2115,80, 2178,118, 2383,118, 2445,80, 2445,30],
  [2513,260, 2578,260, 2643,302, 2643,520, 2578,565, 2578,800, 2513,835, 2446,795, 2446,520, 2513,480, 2513,300],
  [2910,220, 2976,173, 3043,215, 3043,300, 2976,345, 2976,435, 2910,480, 2846,435, 2846,345, 2910,305],
  [2976,30, 2976,105, 3043,160, 3108,120, 3108,80, 3185,30],
  [3242,84, 3306,30, 3440,30, 3440,145, 3373,168, 3373,253, 3306,299, 3306,395, 3242,436, 3242,612, 3177,658, 3177,704, 3109,750, 3043,835, 2976,795, 2976,615, 3108,530, 3108,436, 3177,390, 3177,299, 3242,260],
  [2713,1730, 2778,1688, 2913,1688, 2978,1650, 2978,1600, 3043,1560, 3108,1560, 3173,1600, 3173,1692, 3108,1730, 3108,1825, 3043,1860, 3043,2175, 2978,2220, 2978,2320, 2643,2320, 2643,2140, 2713,2095],
  [1185,1500, 1250,1468, 1317,1508, 1317,1730, 1250,1772, 1185,1730],
  [1250,1960, 1317,1912, 1383,1960, 1383,2000, 1317,2040, 1250,1995],
  [319,2090, 385,2045, 450,2090, 450,2222, 385,2262, 319,2222],
  [270,2320, 319,2275, 385,2320],
  [3050,1148, 3109,1113, 3168,1148, 3109,1191]
];
const layersB = [
  ['blue', calB3, bBlueBase], ['light', calB3, bLightBase], ['blue', calB5, bPocket5],
  ['blue', calB5, bBlueOnLight5], ['blue', calB6, bBlueOnLight6], ['deep', calB5, bDeepOnBlue5], ['deep', calB6, bDeep6],
  ['light', calB5, bLightOnBlue5], ['light', calB6, bLightOnBlue6], ['cyan', calB5, bCyan5], ['cyan', calB6, bCyan6],
  ['green', calB5, bGreen5], ['lime', calB5, bLime5], ['orange', calB5, bOrange5],
  ['deep', calB7, bDeep7], ['light', calB7, bLight7], ['cyan', calB7, bCyanSmall7], ['navy', calB7, bNavy7], ['blue', calB7, bMarks7],
  ['cyan', calB3, bCyanBase], ['light', calB3, bLightOnCyan], ['blue', calB3, bBlueLobes], ['deep', calB3, bDeepLobes],
  ['green', calB3, bGreenBase], ['cyan', calB3, bCyanOnGreen], ['green', calB3, bGreenOnCyan],
  ['lime', calB3, bLimeBase], ['lime', calB4, bLimeIslands], ['lime', calB3, bLimeInGreen], ['orange', calB3, bOrangeIslands], ['red', calB3, bRedIslands],
  ['orange', calB3, bOrangeOnRed], ['cyan', calB3, bCyanOnLime], ['light', calB3, bLightOnLime], ['green', calB3, bGreenOnLime], ['lime', calB3, bLimeSlit],
  ['cyan', calB4, bRainbow4], ['blue', calB4, bRainbowBlue4], ['deep', calB4, bRainbowDeep4], ['light', calB4, bUnderHex4],
  ['black', calB3, bDarkPatch], ['white', calB3, bMasks]
];

const ringToPoints = (cal, ring) => {
  const pts = [];
  for (let i = 0; i < ring.length; i += 2) {
    pts.push({ x: cal[0] + cal[2] * ring[i], y: cal[1] + cal[3] * ring[i + 1] });
  }
  if (pts.length > 2) pts.push(pts[0]); // close the outline
  return pts;
};

function contourDatasets(layers, yMax) {
  const sets = [];
  layers.forEach(([band, cal, rings]) => {
    rings.forEach(ring => {
      sets.push({ data: ringToPoints(cal, ring), backgroundColor: bandColors[band], fill: 'shape' });
    });
  });
  // inward tick marks on top and bottom edge
  const tickPts = [];
  xTickPos.forEach(x => {
    tickPts.push({ x, y: 0 }, { x, y: 28 }, { x: NaN, y: NaN }, { x, y: yMax - 28 }, { x, y: yMax }, { x: NaN, y: NaN });
  });
  sets.push({ data: tickPts, fill: false, borderWidth: 3 });
  return sets.reverse(); // chart.js paints the first dataset last
}

// draws the box around a plot area
const framePlugin = {
  id: 'frame',
  afterDraw(chart, args, opts) {
    const { ctx, chartArea: a } = chart;
    ctx.save();
    ctx.strokeStyle = '#000';
    ctx.lineWidth = opts.width || 3;
    ctx.strokeRect(a.left, a.top, a.right - a.left, a.bottom - a.top);
    ctx.restore();
  }
};

function contourChart(id, layers, yMax) {
  return new Chart(document.getElementById(id), {
    type: 'scatter',
    data: { datasets: contourDatasets(layers, yMax) },
    plugins: [framePlugin],
    options: {
      responsive: false,
      animation: false,
      layout: { padding: { left: 50, right: 50, top: 50, bottom: 0 } },
      elements: {
        point: { radius: 0 },
        line: { borderWidth: 2.6, borderColor: '#000', tension: 0, borderJoinStyle: 'round' }
      },
      datasets: { scatter: { showLine: true, spanGaps: false } },
      plugins: { legend: { display: false }, tooltip: { enabled: false }, title: { display: false } },
      scales: {
        x: {
          type: 'linear', min: 0, max: xMax,
          grid: { display: false }, border: { display: false },
          afterBuildTicks: axis => { axis.ticks = xTickPos.map(value => ({ value })); },
          afterFit: scale => { scale.height = 80; },
          ticks: {
            autoSkip: false, maxRotation: 0, padding: 14, color: '#000',
            font: { family: 'Liberation Sans', size: 40 },
            callback: v => xTickLabels[xTickPos.indexOf(v)]
          }
        },
        y: { type: 'linear', min: 0, max: yMax, reverse: true, display: false }
      }
    }
  });
}

contourChart('chartA', layersA, yMaxA);
contourChart('chartB', layersB, yMaxB);

// colorbar, one stacked bar cell per colormap step
function barColor(v) {
  let i = 0;
  while (i < barStopValues.length - 2 && v > barStopValues[i + 1]) i++;
  const t = (v - barStopValues[i]) / (barStopValues[i + 1] - barStopValues[i]);
  const rgb = s => [1, 3, 5].map(k => parseInt(s.substr(k, 2), 16));
  const a = rgb(barStopColors[i]), b = rgb(barStopColors[i + 1]);
  return `rgb(${a.map((c, k) => Math.round(c + (b[k] - c) * t)).join(',')})`;
}
const barDatasets = [];
for (let i = 0; i < barCells; i++) {
  barDatasets.push({ data: [2 / barCells], backgroundColor: barColor((i + 0.5) * 2 / barCells), barPercentage: 1, categoryPercentage: 1, borderWidth: 0 });
}
new Chart(document.getElementById('chartBar'), {
  type: 'bar',
  data: { labels: ['velocity'], datasets: barDatasets },
  plugins: [framePlugin],
  options: {
    responsive: false,
    animation: false,
    layout: { padding: { left: 20, right: 0, top: 40, bottom: 34 } },
    plugins: { legend: { display: false }, tooltip: { enabled: false }, frame: { width: 4 } },
    scales: {
      x: { stacked: true, display: false },
      y: {
        stacked: true, position: 'right', min: 0, max: 2,
        afterBuildTicks: axis => { axis.ticks = barTicks.map(value => ({ value })); },
        afterFit: scale => { scale.width = 128; },
        grid: { z: 1, color: '#000', lineWidth: 2.5, drawTicks: false },
        border: { display: false, dash: [19, 4] },
        ticks: { padding: 14, color: '#000', font: { family: 'Liberation Sans', size: 42 }, callback: v => String(v) }
      }
    }
  }
});
</script>
</body>
</html>
